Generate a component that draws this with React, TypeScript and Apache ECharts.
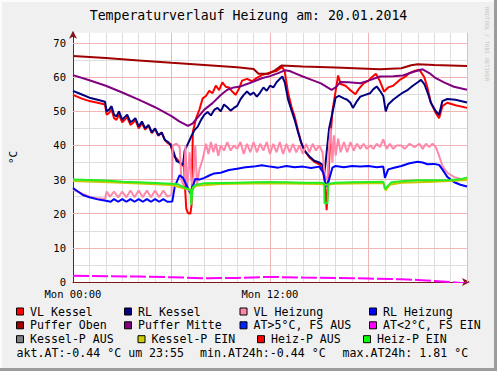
import React, { useEffect, useRef } from "react";
import * as echarts from "echarts";

// ---- data (hours since Mon 00:00, °C) ----
const vlKesselT = [0, 0.5, 1, 1.5, 1.95, 2.05, 2.2, 2.35, 2.5, 2.65, 2.8, 3, 3.15, 3.3, 3.5, 3.65, 3.8, 4, 4.2, 4.4, 4.6, 4.8, 5, 5.2, 5.4, 5.6, 5.8, 5.95, 6.1, 6.3, 6.55, 6.75, 6.9, 7, 7.15, 7.22, 7.3, 7.5, 7.7, 7.9, 8.1, 8.3, 8.5, 8.7, 8.9, 9.1, 9.3, 9.5, 9.7, 9.9, 10.1, 10.3, 10.6, 10.9, 11.2, 11.5, 11.8, 12.1, 12.4, 12.6, 12.75, 12.9, 13.1, 13.3, 13.5, 13.7, 13.9, 14.1, 14.4, 14.7, 15, 15.2, 15.35, 15.45, 15.55, 15.65, 15.8, 16, 16.15, 16.3, 16.6, 16.9, 17.2, 17.4, 17.7, 18, 18.2, 18.45, 18.7, 18.95, 19.2, 19.5, 19.9, 20.2, 20.5, 20.8, 21.1, 21.4, 21.6, 21.8, 22.1, 22.3, 22.5, 22.8, 23.3, 24];
const vlKesselV = [54.8, 53.8, 53.0, 52.5, 52.0, 49.0, 49.5, 50.5, 48.0, 47.5, 49.0, 46.8, 47.5, 48.3, 46.0, 46.6, 47.5, 45.0, 46.5, 44.6, 45.8, 43.6, 44.8, 42.8, 43.8, 41.5, 40.6, 40.5, 37.0, 36.2, 34.8, 33.8, 21.5, 20.2, 20.0, 22.5, 44.0, 48.0, 50.5, 53.8, 54.5, 56.0, 55.3, 57.5, 56.2, 58.5, 57.2, 57.0, 55.8, 54.8, 56.5, 59.0, 59.5, 58.8, 59.8, 60.6, 61.0, 61.5, 61.8, 62.5, 63.0, 61.5, 55.5, 51.5, 48.5, 44.5, 40.8, 38.5, 36.5, 35.2, 34.5, 33.3, 29.0, 21.0, 30.0, 40.0, 50.0, 56.0, 60.5, 58.0, 57.5, 56.2, 55.0, 56.5, 58.2, 59.0, 60.0, 61.0, 58.8, 55.8, 57.0, 57.5, 59.2, 60.0, 61.2, 61.8, 62.2, 60.0, 56.8, 52.5, 49.5, 48.0, 51.5, 52.5, 51.8, 51.0];

const rlKesselT = [0, 0.5, 1, 1.5, 1.95, 2.05, 2.2, 2.35, 2.5, 2.65, 2.8, 3, 3.15, 3.3, 3.5, 3.65, 3.8, 4, 4.2, 4.4, 4.6, 4.8, 5, 5.2, 5.4, 5.6, 5.8, 5.95, 6.1, 6.3, 6.55, 6.7, 6.8, 7, 7.2, 7.4, 7.6, 7.8, 8, 8.2, 8.4, 8.6, 8.8, 9, 9.2, 9.4, 9.6, 9.8, 10, 10.2, 10.4, 10.6, 10.8, 11, 11.2, 11.4, 11.6, 11.8, 12, 12.2, 12.4, 12.6, 12.75, 12.9, 13.1, 13.3, 13.5, 13.7, 13.9, 14.1, 14.4, 14.7, 15, 15.2, 15.32, 15.45, 15.6, 15.8, 16, 16.2, 16.5, 16.7, 16.9, 17.05, 17.3, 17.5, 17.8, 18.1, 18.3, 18.5, 18.7, 18.9, 19.05, 19.2, 19.5, 19.8, 20.1, 20.4, 20.7, 21, 21.2, 21.4, 21.6, 21.8, 22.1, 22.3, 22.5, 22.8, 23.3, 24];
const rlKesselV = [56.0, 55.0, 54.0, 53.4, 52.8, 50.0, 50.5, 51.5, 49.0, 48.5, 50.0, 47.5, 48.3, 49.0, 46.8, 47.3, 48.0, 45.6, 47.0, 45.0, 46.0, 43.8, 45.0, 43.0, 43.8, 41.6, 41.0, 40.0, 38.5, 35.5, 34.8, 34.3, 38.5, 40.5, 42.6, 44.5, 45.5, 47.5, 49.0, 49.8, 48.8, 50.4, 51.0, 50.0, 52.0, 51.2, 50.2, 51.0, 51.6, 53.5, 54.8, 55.8, 54.8, 55.5, 54.3, 55.5, 57.0, 56.0, 57.5, 57.0, 58.5, 59.5, 60.2, 58.5, 53.5, 50.5, 47.5, 44.0, 40.8, 38.5, 36.8, 35.5, 35.0, 34.3, 32.0, 38.0, 45.0, 49.5, 54.0, 54.5, 53.8, 53.4, 52.5, 51.0, 53.0, 54.3, 54.8, 55.3, 56.5, 57.3, 56.0, 54.5, 50.0, 52.0, 53.4, 54.5, 55.5, 56.3, 57.5, 58.5, 59.2, 58.0, 55.5, 52.5, 50.0, 49.0, 53.0, 53.6, 53.4, 52.6];

const vlHeizungT = [0, 0.3, 0.6, 1, 1.5, 1.95, 2.05, 2.25, 2.5, 2.75, 3, 3.25, 3.5, 3.75, 4, 4.25, 4.5, 4.75, 5, 5.25, 5.5, 5.75, 6, 6.08, 6.3, 6.5, 6.6, 6.75, 6.85, 6.95, 7.1, 7.2, 7.3, 7.45, 7.55, 7.7, 7.9, 8.1, 8.25, 8.4, 8.55, 8.7, 8.85, 9, 9.2, 9.4, 9.6, 9.8, 10, 10.2, 10.4, 10.6, 10.8, 11, 11.2, 11.4, 11.6, 11.8, 12, 12.2, 12.4, 12.6, 12.8, 13, 13.2, 13.4, 13.6, 13.8, 14, 14.2, 14.4, 14.6, 14.8, 15, 15.2, 15.35, 15.5, 15.6, 15.7, 15.8, 15.9, 16, 16.15, 16.3, 16.5, 16.7, 16.9, 17.1, 17.3, 17.5, 17.7, 17.9, 18.1, 18.3, 18.5, 18.7, 18.9, 19.1, 19.3, 19.5, 19.7, 20, 20.2, 20.5, 20.8, 21.1, 21.3, 21.5, 21.7, 21.9, 22.1, 22.3, 22.5, 22.8, 23.2, 23.6, 24];
const vlHeizungV = [27.0, 26.5, 25.8, 25.0, 24.5, 24.3, 26.5, 25.0, 26.5, 24.8, 26.5, 24.8, 26.8, 24.8, 26.8, 24.8, 26.8, 24.8, 26.8, 24.8, 26.8, 25.0, 25.5, 40.0, 40.5, 39.5, 30.0, 28.0, 40.0, 27.0, 38.0, 30.0, 28.0, 40.0, 28.5, 33.0, 36.0, 40.5, 37.5, 41.0, 38.0, 40.5, 37.0, 40.0, 38.5, 41.0, 38.5, 40.0, 39.0, 41.0, 37.5, 40.5, 38.0, 41.0, 38.0, 40.5, 38.5, 41.0, 37.5, 40.5, 38.0, 41.0, 37.5, 40.5, 38.0, 40.5, 38.0, 40.0, 37.5, 40.5, 38.0, 40.5, 38.5, 40.0, 38.0, 31.0, 30.0, 40.0, 45.0, 35.0, 43.0, 37.0, 42.0, 38.0, 41.0, 38.0, 41.0, 38.5, 40.5, 39.0, 40.5, 39.0, 40.0, 39.0, 40.5, 39.5, 41.8, 39.0, 40.5, 39.0, 40.0, 40.0, 39.0, 40.5, 39.5, 40.5, 39.0, 40.5, 39.5, 40.5, 39.5, 37.0, 34.0, 32.0, 30.8, 30.2, 29.8];

const rlHeizungT = [0, 0.3, 0.6, 1, 1.5, 2, 2.3, 2.5, 2.75, 3, 3.25, 3.5, 3.75, 4, 4.25, 4.5, 4.75, 5, 5.25, 5.5, 5.75, 6.05, 6.2, 6.5, 6.7, 6.9, 7.15, 7.3, 7.45, 7.7, 8, 8.3, 8.6, 9, 9.5, 10, 10.5, 11, 11.5, 12, 12.5, 13, 13.5, 14, 14.5, 15, 15.25, 15.35, 15.45, 15.6, 15.8, 16, 16.5, 17, 17.5, 18, 18.5, 18.9, 19, 19.2, 19.5, 20, 20.5, 21, 21.3, 21.6, 22, 22.3, 22.5, 22.8, 23.2, 23.6, 24];
const rlHeizungV = [27.5, 26.5, 25.5, 24.8, 24.2, 23.8, 23.5, 24.3, 23.5, 24.3, 23.5, 24.3, 23.5, 24.3, 23.5, 24.3, 23.5, 24.3, 23.5, 24.3, 23.5, 23.6, 28.0, 31.3, 30.5, 28.5, 26.0, 28.0, 30.2, 30.0, 30.5, 31.2, 31.8, 32.0, 32.8, 33.2, 33.6, 33.8, 34.2, 33.8, 33.5, 34.0, 33.6, 33.8, 33.4, 33.8, 32.0, 29.5, 28.0, 30.0, 33.5, 34.0, 33.6, 34.0, 33.8, 34.0, 33.6, 33.8, 30.5, 33.0, 33.4, 34.0, 34.8, 35.2, 35.0, 34.5, 34.6, 34.3, 33.0, 30.8, 29.3, 28.5, 28.0];

const pufferObenT = [0, 2, 4, 6, 8, 10, 11, 11.3, 11.9, 12.3, 12.7, 14, 16, 18.7, 20, 20.6, 21, 22, 24];
const pufferObenV = [66.2, 65.6, 64.9, 64.2, 63.6, 62.9, 62.4, 61.0, 61.0, 62.0, 63.4, 63.1, 62.8, 62.3, 62.6, 63.5, 63.8, 63.6, 63.3];

const pufferMitteT = [0, 1, 2, 3, 4, 5, 6, 6.5, 7, 7.3, 7.6, 8, 8.5, 9, 9.4, 9.8, 10.2, 10.6, 11, 11.5, 12, 12.5, 12.9, 13.2, 13.5, 14, 14.5, 15.1, 15.5, 15.75, 16, 16.3, 16.8, 17.5, 18, 18.7, 19.5, 20.1, 20.7, 21.3, 21.7, 22.1, 22.6, 23.2, 24];
const pufferMitteV = [60.6, 59.1, 57.5, 55.5, 53.4, 51.2, 48.6, 47.0, 45.7, 46.5, 48.2, 50.5, 52.4, 54.8, 56.3, 57.0, 57.3, 58.0, 58.7, 59.7, 60.3, 61.2, 62.0, 61.8, 61.2, 60.2, 59.3, 58.2, 57.0, 56.3, 57.0, 58.6, 58.5, 58.2, 59.0, 60.2, 60.3, 60.5, 61.5, 62.3, 61.2, 59.7, 58.5, 57.2, 56.3];

const aussenT = [0, 2, 4, 6, 8, 10, 12, 14, 16, 18, 20, 21, 22, 23, 24];
const aussenV = [1.81, 1.7, 1.6, 1.4, 1.1, 1.2, 1.5, 1.3, 1.2, 1.0, 0.8, 0.6, 0.3, 0.0, -0.44];

const kesselPT = [0, 3, 6, 6.8, 7.2, 7.5, 9, 12, 15, 15.4, 16, 18.9, 19.05, 19.3, 20, 22, 24];
const kesselPV = [29.6, 29.1, 28.4, 27.4, 26.8, 28.2, 28.7, 28.9, 28.7, 28.5, 28.8, 29.0, 26.8, 28.5, 29.1, 29.4, 29.9];

const heizPT = [0, 1, 2, 3, 4, 5, 6, 6.4, 6.8, 7, 7.15, 7.2, 7.3, 7.5, 8, 9, 10, 11, 12, 13, 14, 15, 15.3, 15.32, 15.5, 15.55, 16, 17, 18, 18.9, 19, 19.15, 19.4, 20, 21, 22, 23, 23.7, 24];
const heizPV = [30.0, 29.9, 29.7, 29.4, 29.2, 29.0, 28.8, 28.6, 27.6, 27.3, 27.0, 22.6, 27.8, 28.5, 28.9, 29.0, 29.1, 29.2, 29.3, 29.2, 29.1, 29.1, 29.0, 23.1, 23.1, 28.8, 29.1, 29.2, 29.3, 29.4, 27.2, 28.0, 29.2, 29.5, 29.8, 29.8, 29.9, 30.2, 30.6];

// ---- texts ----
const titleText = "Temperaturverlauf Heizung am: 20.01.2014";
const xTickLabels: Record<number, string> = { 0: "Mon 00:00", 12: "Mon 12:00" };
const legendRow1 = ["VL Kessel", "RL Kessel", "VL Heizung", "RL Heizung"];
const legendRow2 = ["Puffer Oben", "Puffer Mitte", "AT>5°C, FS AUS", "AT<2°C, FS EIN"];
const legendRow3 = ["Kessel-P AUS", "Kessel-P EIN", "Heiz-P AUS", "Heiz-P EIN"];
const legendColors1 = ["#ff0000", "#000080", "#ff88aa", "#0000ff"];
const legendColors2 = ["#a00000", "#800080", "#0022ff", "#ff00ff"];
const legendColors3 = ["#808080", "#cccc00", "#ff0000", "#00ff00"];
const statsTexts = ["akt.AT:-0.44 °C um 23:55", "min.AT24h:-0.44 °C", "max.AT24h: 1.81 °C"];

const MONO = "'DejaVu Sans Mono', monospace";

const pairs = (t: number[], v: number[]) => t.map((x, i) => [x, v[i]]);

function line(name: string, t: number[], v: number[], color: string, extra: any = {}) {
  return {
    name,
    type: "line",
    data: pairs(t, v),
    symbol: "none",
    showSymbol: false,
    xAxisIndex: 0,
    yAxisIndex: 0,
    lineStyle: { color, width: 2, ...extra },
    itemStyle: { color },
    emphasis: { disabled: true },
    silent: true,
  };
}

export default function App() {
  const ref = useRef<HTMLDivElement>(null);
  useEffect(() => {
    if (!ref.current) return;
    const chart = echarts.init(ref.current, undefined, { renderer: "svg" });

    const legendGraphics: any[] = [];
    const rows = [
      { labels: legendRow1, colors: legendColors1, xs: [16, 124, 239.5, 369], cy: 311.5 },
      { labels: legendRow2, colors: legendColors2, xs: [16, 124, 239.5, 369], cy: 325.3 },
      { labels: legendRow3, colors: legendColors3, xs: [16, 137.5, 257, 363], cy: 339.2 },
    ];
    rows.forEach((r) => {
      r.labels.forEach((lab, i) => {
        legendGraphics.push({
          type: "rect",
          shape: { x: r.xs[i] + 0.5, y: r.cy - 3.5, width: 7, height: 7 },
          style: { fill: r.colors[i], stroke: "#000000", lineWidth: 1 },
          silent: true,
        });
        legendGraphics.push({
          type: "text",
          x: r.xs[i] + 14,
          y: r.cy,
          style: { text: lab, fill: "#000000", font: `11.6px ${MONO}`, textAlign: "left", textVerticalAlign: "middle" },
          silent: true,
        });
      });
    });
    const statsX = [16.5, 200, 342.5];
    statsTexts.forEach((s, i) => {
      legendGraphics.push({
        type: "text",
        x: statsX[i],
        y: 353.3,
        style: { text: s, fill: "#000000", font: `11.6px ${MONO}`, textAlign: "left", textVerticalAlign: "middle" },
        silent: true,
      });
    });

    const gridCol = "#dedede";
    const majorCol = "#f3b4b4";
    const axisCol = "#801818";

    chart.setOption({
      animation: false,
      backgroundColor: "#f0f0f0",
      title: {
        text: titleText,
        left: "center",
        top: 9,
        padding: 0,
        textStyle: { fontFamily: MONO, fontSize: 13.2, fontWeight: "normal", color: "#000000" },
      },
      grid: {
        left: 67,
        top: 32.8,
        width: 400,
        height: 249.2,
        show: true,
        backgroundColor: "#ffffff",
        borderWidth: 0,
      },
      xAxis: [
        {
          type: "value",
          min: 0,
          max: 24,
          interval: 1,
          axisLine: {
            show: true,
            onZero: false,
            lineStyle: { color: axisCol, width: 1 },
            symbol: ["none", "arrow"],
            symbolSize: [6, 8],
            symbolOffset: [0, 3],
          },
          axisTick: { show: false },
          axisLabel: { show: false },
          splitLine: { show: true, showMinLine: false, lineStyle: { color: gridCol, width: 1 } },
          z: 1,
        },
        {
          type: "value",
          min: 0,
          max: 24,
          interval: 6,
          position: "bottom",
          axisLine: { show: false },
          axisTick: { show: false },
          axisLabel: {
            show: true,
            margin: 6,
            fontFamily: MONO,
            fontSize: 10.5,
            color: "#000000",
            formatter: (v: number) => xTickLabels[v] ?? "",
          },
          splitLine: { show: true, showMinLine: false, lineStyle: { color: majorCol, width: 1 } },
          z: 2,
        },
      ],
      yAxis: [
        {
          type: "value",
          min: 0,
          max: 73,
          interval: 5,
          name: "°C",
          nameLocation: "middle",
          nameRotate: 90,
          nameGap: 54,
          nameTextStyle: { fontFamily: MONO, fontSize: 11, color: "#000000" },
          axisLine: {
            show: true,
            onZero: false,
            lineStyle: { color: axisCol, width: 1 },
            symbol: ["none", "arrow"],
            symbolSize: [6, 8],
            symbolOffset: [0, 2],
          },
          axisTick: { show: false },
          axisLabel: { show: false },
          splitLine: { show: true, showMinLine: false, showMaxLine: false, lineStyle: { color: gridCol, width: 1 } },
          z: 1,
        },
        {
          type: "value",
          min: 0,
          max: 73,
          interval: 10,
          position: "left",
          axisLine: { show: false },
          axisTick: { show: false },
          axisLabel: {
            show: true,
            margin: 7,
            fontFamily: MONO,
            fontSize: 10.5,
            color: "#000000",
            formatter: (v: number) => (v % 10 === 0 ? String(v) : ""),
          },
          splitLine: { show: true, showMinLine: false, showMaxLine: false, lineStyle: { color: majorCol, width: 1 } },
          z: 2,
        },
      ],
      series: [
        line("VL Kessel", vlKesselT, vlKesselV, "#ff0000"),
        line("RL Kessel", rlKesselT, rlKesselV, "#000080"),
        line("VL Heizung", vlHeizungT, vlHeizungV, "#ff88aa"),
        line("RL Heizung", rlHeizungT, rlHeizungV, "#0000ff"),
        line("Puffer Oben", pufferObenT, pufferObenV, "#a00000"),
        line("Puffer Mitte", pufferMitteT, pufferMitteV, "#800080"),
        line("AT", aussenT, aussenV, "#ff00ff", { type: [16, 3] }),
        line("Kessel-P", kesselPT, kesselPV, "#c8c800"),
        line("Heiz-P", heizPT, heizPV, "#22ee22"),
      ],
      graphic: [
        { type: "rect", shape: { x: 0, y: 0, width: 497, height: 2 }, style: { fill: "#fbfbfb" }, silent: true },
        { type: "rect", shape: { x: 0, y: 0, width: 2, height: 371 }, style: { fill: "#fbfbfb" }, silent: true },
        { type: "rect", shape: { x: 494, y: 0, width: 3, height: 371 }, style: { fill: "#9c9c9c" }, silent: true },
        { type: "rect", shape: { x: 0, y: 368, width: 497, height: 3 }, style: { fill: "#9c9c9c" }, silent: true },
        {
          type: "text",
          x: 487,
          y: 7,
          rotation: -Math.PI / 2,
          style: { text: "RRDTOOL / TOBI OETIKER", fill: "#c4c4c4", font: `5.6px ${MONO}`, textAlign: "left", textVerticalAlign: "middle" },
          silent: true,
        },
        ...legendGraphics,
      ],
    });
    return () => chart.dispose();
  }, []);
  return <div ref={ref} style={{ position: "fixed", left: 0, top: 0, width: 497, height: 371 }} />;
}
